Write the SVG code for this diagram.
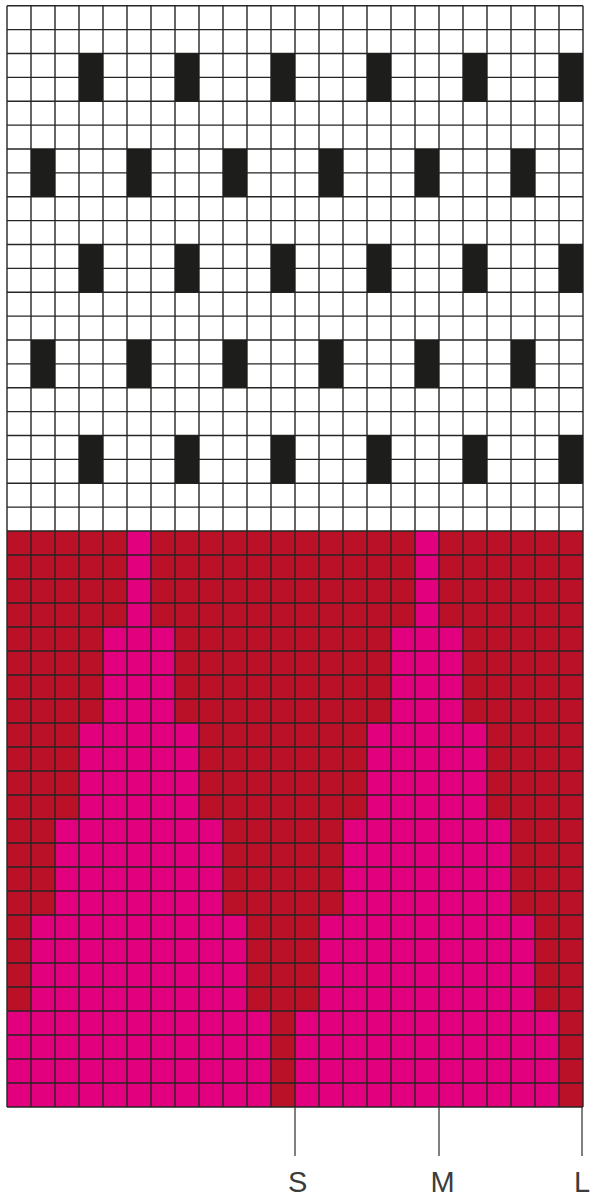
<svg xmlns="http://www.w3.org/2000/svg" xmlns:xlink="http://www.w3.org/1999/xlink" width="590" height="1199" viewBox="0 0 590 1199">
<style>
.blk{fill:#1d1d1b}
.grid{fill:none;stroke:#262624;stroke-width:1.4}
.tick{stroke:#3c3c3c;stroke-width:1.3}
.lbl{font-family:"Liberation Sans",Arial,sans-serif;font-size:29px;fill:#3c3c3c}
</style>
<defs>
<path id="motif" d="M127,531H151V627H175V723H199V819H223V915H247V1011H271V1107H7V1011H31V915H55V819H79V723H103V627H127Z" fill="#e2007e"/>
<rect id="b" class="blk" width="24" height="47.75"/>
</defs>
<rect width="590" height="1199" fill="#ffffff"/>
<g id="white-section">
<rect x="7" y="5.7" width="576" height="525.3" fill="#ffffff"/>
</g>
<g id="red-section">
<rect x="7" y="531" width="576" height="576" fill="#bb1128"/>
<use xlink:href="#motif"/>
<use xlink:href="#motif" transform="translate(288,0)"/>
</g>
<g id="grid">
<path class="grid" d="M7,5.7V1107M31,5.7V1107M55,5.7V1107M79,5.7V1107M103,5.7V1107M127,5.7V1107M151,5.7V1107M175,5.7V1107M199,5.7V1107M223,5.7V1107M247,5.7V1107M271,5.7V1107M295,5.7V1107M319,5.7V1107M343,5.7V1107M367,5.7V1107M391,5.7V1107M415,5.7V1107M439,5.7V1107M463,5.7V1107M487,5.7V1107M511,5.7V1107M535,5.7V1107M559,5.7V1107M583,5.7V1107"/>
<path class="grid" d="M7,5.7H583M7,29.58H583M7,53.45H583M7,77.33H583M7,101.21H583M7,125.09H583M7,148.96H583M7,172.84H583M7,196.72H583M7,220.59H583M7,244.47H583M7,268.35H583M7,292.22H583M7,316.1H583M7,339.98H583M7,363.86H583M7,387.73H583M7,411.61H583M7,435.49H583M7,459.36H583M7,483.24H583M7,507.12H583M7,531H583M7,555H583M7,579H583M7,603H583M7,627H583M7,651H583M7,675H583M7,699H583M7,723H583M7,747H583M7,771H583M7,795H583M7,819H583M7,843H583M7,867H583M7,891H583M7,915H583M7,939H583M7,963H583M7,987H583M7,1011H583M7,1035H583M7,1059H583M7,1083H583M7,1107H583"/>
</g>
<g id="black-stitches">
<use xlink:href="#b" x="79" y="53.45"/><use xlink:href="#b" x="175" y="53.45"/><use xlink:href="#b" x="271" y="53.45"/><use xlink:href="#b" x="367" y="53.45"/><use xlink:href="#b" x="463" y="53.45"/><use xlink:href="#b" x="559" y="53.45"/>
<use xlink:href="#b" x="31" y="148.96"/><use xlink:href="#b" x="127" y="148.96"/><use xlink:href="#b" x="223" y="148.96"/><use xlink:href="#b" x="319" y="148.96"/><use xlink:href="#b" x="415" y="148.96"/><use xlink:href="#b" x="511" y="148.96"/>
<use xlink:href="#b" x="79" y="244.47"/><use xlink:href="#b" x="175" y="244.47"/><use xlink:href="#b" x="271" y="244.47"/><use xlink:href="#b" x="367" y="244.47"/><use xlink:href="#b" x="463" y="244.47"/><use xlink:href="#b" x="559" y="244.47"/>
<use xlink:href="#b" x="31" y="339.98"/><use xlink:href="#b" x="127" y="339.98"/><use xlink:href="#b" x="223" y="339.98"/><use xlink:href="#b" x="319" y="339.98"/><use xlink:href="#b" x="415" y="339.98"/><use xlink:href="#b" x="511" y="339.98"/>
<use xlink:href="#b" x="79" y="435.49"/><use xlink:href="#b" x="175" y="435.49"/><use xlink:href="#b" x="271" y="435.49"/><use xlink:href="#b" x="367" y="435.49"/><use xlink:href="#b" x="463" y="435.49"/><use xlink:href="#b" x="559" y="435.49"/>
</g>
<g id="size-markers">
<line class="tick" x1="295" y1="1107" x2="295" y2="1156"/>
<line class="tick" x1="439" y1="1107" x2="439" y2="1156"/>
<line class="tick" x1="582" y1="1107" x2="582" y2="1156"/>
<text class="lbl" x="288" y="1191.5">S</text>
<text class="lbl" x="430.6" y="1191.5">M</text>
<text class="lbl" x="574" y="1191.5">L</text>
</g>
</svg>
